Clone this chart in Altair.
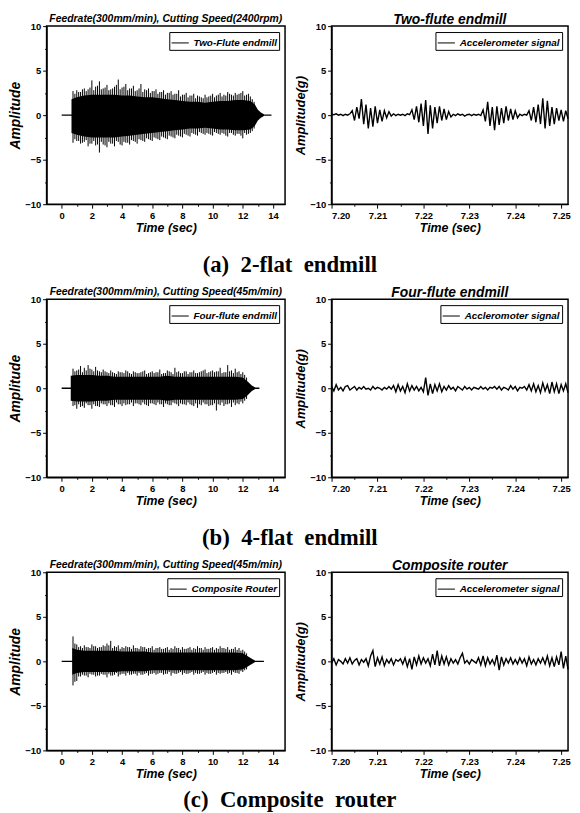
import altair as alt
import pandas as pd

# ---------------- data ----------------
# Left panels: dense cutting signal, drawn as a core envelope + individual peaks
A_CORE_T = [0.65, 1.0, 1.5, 2.0, 2.5, 3.0, 3.5, 4.0, 4.5, 5.0, 5.5, 6.0, 6.5, 7.0, 7.5,
            8.0, 8.5, 9.0, 9.5, 10.0, 10.5, 11.0, 11.5, 12.0, 12.5, 12.8, 13.0, 13.2, 13.4]
A_CORE_UP = [1.8, 2.0, 2.2, 2.3, 2.3, 2.3, 2.3, 2.2, 2.2, 2.1, 2.0, 2.0, 1.9, 1.8, 1.7,
             1.6, 1.5, 1.5, 1.4, 1.5, 1.6, 1.6, 1.7, 1.7, 1.6, 1.2, 0.6, 0.3, 0.1]
A_CORE_LO = [-2.0, -2.2, -2.4, -2.5, -2.5, -2.5, -2.5, -2.4, -2.3, -2.2, -2.1, -2.0, -1.9, -1.8, -1.7,
             -1.6, -1.5, -1.5, -1.4, -1.5, -1.6, -1.6, -1.7, -1.7, -1.6, -1.2, -0.6, -0.3, -0.1]
A_PEAK_UP = [2.7, 2.8, 2.6, 3.0, 2.9, 3.9, 3.2, 3.8, 3.0, 3.4, 2.9, 3.2, 4.0, 3.1, 3.5, 3.0,
             3.3, 2.8, 3.5, 2.9, 3.0, 2.7, 2.9, 2.6, 2.8, 2.5, 2.7, 2.4, 2.8, 2.3, 2.5, 2.2,
             2.4, 2.2, 2.0, 2.3, 2.1, 2.4, 2.2, 2.5, 2.3, 2.6, 2.3, 2.5, 2.4, 2.7, 2.3, 2.1, 1.5]
A_PEAK_LO = [-3.1, -2.9, -3.2, -3.0, -3.5, -3.2, -3.4, -4.2, -3.3, -3.6, -3.2, -3.5, -3.0, -3.4, -3.1, -3.3,
             -2.9, -3.2, -2.8, -3.0, -2.7, -2.9, -2.6, -2.8, -2.5, -2.7, -2.4, -2.6, -2.3, -2.5, -2.2, -2.4,
             -2.1, -2.3, -2.0, -2.2, -2.1, -2.3, -2.0, -2.2, -2.1, -2.4, -2.0, -2.3, -2.1, -2.6, -2.2, -2.0, -1.5]
A_MID_UP = [2.4, 2.6, 2.9, 2.7, 3.1, 2.8, 3.3, 2.9, 3.1, 2.8, 3.0, 3.4, 2.9, 3.2, 2.8, 3.0,
            2.7, 3.0, 2.6, 2.8, 2.5, 2.7, 2.4, 2.6, 2.3, 2.5, 2.3, 2.4, 2.1, 2.3, 2.0, 2.2,
            1.9, 2.1, 1.9, 2.0, 2.2, 2.0, 2.3, 2.1, 2.2, 2.4, 2.2, 2.3, 2.5, 2.2, 2.4, 1.8]
A_MID_LO = [-2.7, -2.9, -3.1, -2.8, -3.2, -2.9, -3.3, -3.0, -3.4, -3.0, -3.2, -2.9, -3.3, -3.0, -3.1, -2.8,
            -3.0, -2.7, -2.9, -2.6, -2.8, -2.5, -2.7, -2.4, -2.6, -2.3, -2.5, -2.2, -2.4, -2.1, -2.3, -2.0,
            -2.2, -1.9, -2.1, -2.0, -2.2, -1.9, -2.1, -2.0, -2.3, -2.0, -2.2, -2.1, -2.3, -2.0, -2.1, -1.8]
A_TRACE_END = 13.9

B_CORE_T = [0.6, 1.0, 1.5, 2.0, 2.5, 3.0, 3.5, 4.0, 4.5, 5.0, 5.5, 6.0, 6.5, 7.0, 7.5,
            8.0, 8.5, 9.0, 9.5, 10.0, 10.5, 11.0, 11.5, 12.0, 12.3, 12.6, 12.8]
B_CORE_UP = [1.4, 1.5, 1.5, 1.5, 1.4, 1.4, 1.3, 1.3, 1.3, 1.3, 1.3, 1.3, 1.3, 1.4, 1.3,
             1.3, 1.3, 1.3, 1.3, 1.3, 1.3, 1.3, 1.3, 1.2, 0.8, 0.3, 0.1]
B_CORE_LO = [-1.4, -1.5, -1.5, -1.5, -1.4, -1.4, -1.3, -1.3, -1.3, -1.3, -1.3, -1.3, -1.3, -1.4, -1.3,
             -1.3, -1.3, -1.3, -1.3, -1.3, -1.3, -1.3, -1.3, -1.2, -0.8, -0.3, -0.1]
B_PEAK_UP = [2.2, 2.0, 2.5, 2.3, 2.6, 2.1, 2.4, 1.9, 2.1, 1.8, 2.0, 1.7, 1.9, 1.8, 2.0, 1.7,
             1.9, 1.7, 1.8, 2.0, 1.7, 1.9, 1.8, 2.1, 1.7, 2.0, 1.8, 2.3, 1.9, 1.7, 1.9, 1.8,
             2.0, 1.7, 1.9, 2.1, 1.8, 2.0, 1.9, 2.3, 1.8, 2.6, 2.0, 2.2, 1.9, 1.8, 1.2]
B_PEAK_LO = [-2.0, -2.3, -2.1, -2.2, -1.9, -2.3, -2.0, -2.1, -1.8, -2.0, -1.9, -2.1, -1.8, -2.0, -1.9, -1.8,
             -2.0, -1.7, -1.9, -1.8, -2.0, -1.7, -1.9, -1.8, -2.1, -1.8, -1.9, -1.7, -2.0, -1.8, -1.9, -1.8,
             -2.0, -2.2, -1.9, -1.8, -2.0, -1.9, -2.5, -1.9, -2.0, -1.8, -2.1, -1.9, -1.8, -1.7, -1.2]
B_MID_UP = [1.9, 2.1, 1.8, 2.0, 2.2, 1.9, 2.0, 1.8, 1.9, 1.7, 1.8, 1.6, 1.8, 1.7, 1.9, 1.6,
            1.8, 1.7, 1.9, 1.6, 1.8, 1.7, 1.8, 1.6, 1.7, 1.9, 1.6, 1.8, 1.7, 1.9, 1.6, 1.8,
            1.7, 1.8, 2.0, 1.7, 1.9, 1.8, 1.9, 1.7, 1.8, 1.9, 1.7, 1.8, 1.6, 1.5]
B_MID_LO = [-1.9, -1.8, -2.0, -1.7, -1.9, -1.8, -2.0, -1.7, -1.8, -1.7, -1.9, -1.6, -1.8, -1.7, -1.8, -1.6,
            -1.7, -1.8, -1.6, -1.9, -1.7, -1.8, -1.6, -1.8, -1.7, -1.9, -1.6, -1.8, -1.7, -1.8, -1.6, -1.9,
            -1.7, -1.8, -1.6, -1.8, -1.9, -1.7, -1.8, -1.6, -1.8, -1.7, -1.6, -1.7, -1.5, -1.4]
B_TRACE_END = 13.1

C_CORE_T = [0.7, 1.0, 1.5, 2.0, 2.5, 3.0, 3.5, 4.0, 4.5, 5.0, 5.5, 6.0, 6.5, 7.0, 7.5,
            8.0, 8.5, 9.0, 9.5, 10.0, 10.5, 11.0, 11.5, 12.0, 12.3, 12.6, 12.8]
C_CORE_UP = [1.5, 1.3, 1.2, 1.2, 1.2, 1.2, 1.2, 1.1, 1.1, 1.1, 1.1, 1.0, 1.0, 1.0, 1.0,
             1.0, 1.0, 1.0, 1.0, 1.0, 1.0, 1.0, 1.0, 0.9, 0.6, 0.3, 0.1]
C_CORE_LO = [-1.5, -1.3, -1.2, -1.2, -1.2, -1.2, -1.2, -1.1, -1.1, -1.1, -1.1, -1.0, -1.0, -1.0, -1.0,
             -1.0, -1.0, -1.0, -1.0, -1.0, -1.0, -1.0, -1.0, -0.9, -0.6, -0.3, -0.1]
C_PEAK_UP = [2.8, 1.9, 1.7, 1.8, 1.6, 1.9, 1.7, 1.6, 1.8, 2.0, 2.3, 1.7, 1.8, 1.6, 1.7, 1.6,
             1.8, 1.5, 1.7, 1.6, 1.5, 1.7, 1.5, 1.6, 1.4, 1.6, 1.5, 1.7, 1.5, 1.6, 1.4, 1.6,
             1.5, 1.7, 1.5, 1.6, 1.4, 1.6, 1.5, 1.7, 1.5, 1.6, 1.4, 1.6, 1.5, 1.3, 0.9]
C_PEAK_LO = [-2.7, -2.2, -1.7, -1.6, -1.8, -1.5, -1.7, -1.6, -1.5, -1.8, -1.6, -1.5, -1.7, -1.4, -1.6, -1.5,
             -1.4, -1.6, -1.5, -1.4, -1.6, -1.4, -1.5, -1.3, -1.5, -1.4, -1.6, -1.4, -1.3, -1.5, -1.4, -1.3,
             -1.5, -1.4, -1.3, -1.5, -1.4, -1.3, -1.5, -1.4, -1.3, -1.4, -1.5, -1.3, -1.4, -1.2, -0.9]
C_MID_UP = [2.0, 1.6, 1.5, 1.6, 1.5, 1.7, 1.5, 1.6, 1.7, 1.8, 1.5, 1.6, 1.4, 1.5, 1.6, 1.4,
            1.5, 1.4, 1.6, 1.4, 1.5, 1.3, 1.5, 1.4, 1.5, 1.3, 1.4, 1.5, 1.3, 1.4, 1.5, 1.3,
            1.4, 1.5, 1.3, 1.4, 1.5, 1.3, 1.4, 1.5, 1.4, 1.3, 1.4, 1.3, 1.2, 1.1]
C_MID_LO = [-2.3, -1.7, -1.5, -1.6, -1.4, -1.5, -1.6, -1.4, -1.5, -1.4, -1.6, -1.3, -1.5, -1.4, -1.3, -1.5,
            -1.4, -1.3, -1.5, -1.3, -1.4, -1.3, -1.4, -1.3, -1.4, -1.2, -1.3, -1.4, -1.2, -1.3, -1.4, -1.2,
            -1.3, -1.4, -1.2, -1.3, -1.4, -1.2, -1.3, -1.3, -1.2, -1.3, -1.2, -1.3, -1.1, -1.0]
C_TRACE_END = 13.4

PEAK_START, MID_START, PEAK_STEP = 0.75, 0.875, 0.25

# Right panels: accelerometer signal, 0.5 ms sampling from 7.200 s
R_START = 7.2
R_STEP = 0.0005
RA_SIG = [0.1, 0.05, 0.15, 0.0, 0.1, -0.05, 0.1, 0.0, 0.15,
          0.5, -0.6, 0.9, -0.4, 1.8, -1.0, 1.2, -1.5, 0.8, -1.3, 1.0, -0.9, 0.6, -0.7, 0.5, -0.3, 0.4,
          -0.1, 0.15, -0.05, 0.1, 0.0, 0.1, -0.05, 0.15, 0.05,
          0.6, -0.5, 1.0, -0.8, 1.3, -1.2, 1.7, -2.1, 1.1, -1.5, 0.9, -0.9, 1.0, -0.6, 0.7, -0.5, 0.4, -0.2,
          0.1, -0.05, 0.15, 0.0, 0.1, -0.1, 0.05, 0.1, -0.05, 0.1, 0.0, 0.1, -0.05,
          0.6, -0.7, 1.5, -1.2, 0.9, -1.7, 1.0, -1.1, 0.8, -0.9, 1.0, -0.6, 0.7, -0.5, 0.5, -0.3,
          0.1, -0.05, 0.1, 0.0,
          0.5, -0.6, 0.9, -0.8, 1.2, -1.0, 1.9, -1.5, 1.6, -1.2, 0.9, -1.0, 0.8, -0.6, 0.6, -0.7, 0.5, -0.4]
RB_SIG = [0.2, -0.3, 0.4, -0.2, 0.1, -0.3, 0.2, 0.3, -0.2, 0.0, 0.2, -0.2, 0.1, -0.1, 0.2, -0.1, 0.0, -0.2, 0.2, -0.1,
          0.1, 0.0, -0.2, 0.1, -0.1, 0.2, -0.1, 0.3, -0.4, 0.4, -0.3, 0.2, -0.5, 0.5, -0.3, 0.3, -0.2, 0.2, -0.3, 0.1,
          -0.4, 1.2, -0.8, 0.5, -0.6, 0.4, -0.3, 0.5, -0.4, 0.2, -0.2, 0.3, -0.1, 0.1, -0.3, 0.2, 0.0, -0.2, 0.2, -0.1,
          0.1, -0.2, 0.1, 0.0, -0.1, 0.2, -0.1, 0.1, -0.2, 0.1, 0.0, 0.2, -0.1, 0.2, -0.2, 0.1, 0.0, -0.2, 0.3, -0.1,
          0.2, -0.3, 0.1, 0.0, 0.2, -0.2, 0.4, -0.3, 0.5, -0.4, 0.3, -0.5, 0.6, -0.3, 0.4, -0.6, 0.7, -0.4, 0.5, -0.6,
          0.4, -0.3, 0.5, -0.5]
RC_SIG = [-0.2, 0.3, -0.4, 0.2, 0.0, -0.3, 0.3, -0.2, 0.4, -0.3, 0.1, 0.3, -0.4, 0.2, -0.1, 0.3, -0.5, 0.6, 1.2, -0.6,
          0.4, -0.3, 0.5, -0.5, 0.2, -0.2, 0.3, -0.4, 0.2, 0.0, 0.3, -0.3, 0.4, -0.6, 0.3, -0.9, 0.5, -0.4, 0.6, -0.3,
          0.4, -0.2, 0.3, -0.5, 0.8, -0.4, 1.2, -0.5, 0.6, -0.3, 0.5, -0.4, 0.3, -0.2, 0.2, -0.3, 0.4, 0.9, -0.2, 0.1,
          -0.3, 0.2, 0.0, -0.2, 0.4, -0.4, 0.6, -0.5, 0.4, -0.3, 0.2, -0.4, 0.7, -1.0, 0.5, -0.4, 0.3, -0.2, 0.4, -0.3,
          0.2, -0.3, 0.4, -0.2, 0.3, -0.5, 0.5, -0.3, 0.2, -0.4, 0.3, -0.2, 0.4, -0.3, 0.6, -0.5, 0.4, -0.6, 0.5, -0.4,
          1.1, -0.8, 0.6, -0.9]

LEFT_TITLES = ["Feedrate(300mm/min), Cutting Speed(2400rpm)",
               "Feedrate(300mm/min), Cutting Speed(45m/min)",
               "Feedrate(300mm/min), Cutting Speed(45m/min)"]
LEFT_LEGENDS = ["Two-Flute endmill", "Four-flute endmill", "Composite Router"]
RIGHT_TITLES = ["Two-flute endmill", "Four-flute endmill", "Composite router"]
RIGHT_LEGENDS = ["Accelerometer signal", "Accleromoter signal", "Accelerometer signal"]
CAPTIONS = ["(a)\u00a0\u00a02-flat\u00a0\u00a0endmill",
            "(b)\u00a0\u00a04-flat\u00a0\u00a0endmill",
            "(c)\u00a0\u00a0Composite\u00a0\u00a0router"]

# tick positions (labelled ones and the minor ones in between)
LEFT_X_TICKS = [0, 1, 2, 3, 4, 5, 6, 7, 8, 9, 10, 11, 12, 13, 14]
RIGHT_X_TICKS = [7.200, 7.205, 7.210, 7.215, 7.220, 7.225, 7.230, 7.235, 7.240, 7.245, 7.250]
Y_TICKS = [-10, -7.5, -5, -2.5, 0, 2.5, 5, 7.5, 10]

# ---------------- layout / style ----------------
LW, RW, H = 241, 239, 180
FONT = "Liberation Sans"
CAPTION_OFFSETS = [20, 20, 8]

Y_MAJOR = "abs(datum.value % 5) < 0.001"
LX_MAJOR = "abs(datum.value % 2) < 0.001"
RX_MAJOR = "abs(round(datum.value * 1000) % 10) == 0"

yscale = alt.Scale(domain=[-10, 10], nice=False, zero=False)


def axis(values, major, title, tsize, fmt=None):
    kw = dict(values=values, title=title, titleFontSize=tsize,
              labelExpr=f"({major}) ? datum.label : ''",
              tickSize={"condition": {"test": major, "value": 4}, "value": 2})
    if fmt:
        kw["format"] = fmt
    return alt.Axis(**kw)


def left_panel(core_t, core_up, core_lo, pk_up, pk_lo, mid_up, mid_lo, trace_end, title, legend):
    xs = alt.Scale(domain=[-1, 14.8], nice=False, zero=False)
    xax = axis(LEFT_X_TICKS, LX_MAJOR, "Time (sec)", 12.5)
    yax = axis(Y_TICKS, Y_MAJOR, "Amplitude", 14)
    core = pd.DataFrame({"t": core_t, "up": core_up, "lo": core_lo})
    peaks = pd.DataFrame({"t": [PEAK_START + PEAK_STEP * i for i in range(len(pk_up))],
                          "up": pk_up, "lo": pk_lo, "s": legend})
    mids = pd.DataFrame({"t": [MID_START + PEAK_STEP * i for i in range(len(mid_up))],
                         "up": mid_up, "lo": mid_lo})
    trace = pd.DataFrame({"t": [0.0, trace_end], "y": [0.0, 0.0]})
    base_line = alt.Chart(trace).mark_line(color="black", strokeWidth=1.3).encode(
        x=alt.X("t:Q", scale=xs, axis=xax), y=alt.Y("y:Q", scale=yscale, axis=yax))
    area = alt.Chart(core).mark_area(color="black", opacity=1).encode(
        x=alt.X("t:Q", scale=xs, axis=xax), y=alt.Y("up:Q", scale=yscale, axis=yax), y2="lo:Q")
    mid_rules = alt.Chart(mids).mark_rule(strokeWidth=1, color="black").encode(
        x=alt.X("t:Q", scale=xs, axis=xax), y=alt.Y("up:Q", scale=yscale, axis=yax), y2="lo:Q")
    rules = alt.Chart(peaks).mark_rule(strokeWidth=1).encode(
        x=alt.X("t:Q", scale=xs, axis=xax), y=alt.Y("up:Q", scale=yscale, axis=yax), y2="lo:Q",
        color=alt.Color("s:N", scale=alt.Scale(range=["black"]),
                        legend=alt.Legend(title=None, orient="top-right")))
    return alt.layer(base_line, area, mid_rules, rules).properties(
        width=LW, height=H,
        title=alt.TitleParams(title, font=FONT, fontSize=10.5, fontStyle="italic",
                              fontWeight="bold", anchor="middle", offset=-3.5, color="black"))


def right_panel(sig, title, legend):
    xs = alt.Scale(domain=[7.2, 7.2515], nice=False, zero=False)
    df = pd.DataFrame({"t": [R_START + R_STEP * i for i in range(len(sig))], "v": sig, "s": legend})
    return alt.Chart(df).mark_line(strokeWidth=1.4).encode(
        x=alt.X("t:Q", scale=xs, axis=axis(RIGHT_X_TICKS, RX_MAJOR, "Time (sec)", 12.5, ".2f")),
        y=alt.Y("v:Q", scale=yscale, axis=axis(Y_TICKS, Y_MAJOR, "Amplitude(g)", 13)),
        color=alt.Color("s:N", scale=alt.Scale(range=["black"]),
                        legend=alt.Legend(title=None, orient="top-right")),
    ).properties(
        width=RW, height=H,
        title=alt.TitleParams(title, font=FONT, fontSize=14, fontStyle="italic",
                              fontWeight="bold", anchor="middle", offset=-6, color="black"))


lefts = [
    left_panel(A_CORE_T, A_CORE_UP, A_CORE_LO, A_PEAK_UP, A_PEAK_LO, A_MID_UP, A_MID_LO,
               A_TRACE_END, LEFT_TITLES[0], LEFT_LEGENDS[0]),
    left_panel(B_CORE_T, B_CORE_UP, B_CORE_LO, B_PEAK_UP, B_PEAK_LO, B_MID_UP, B_MID_LO,
               B_TRACE_END, LEFT_TITLES[1], LEFT_LEGENDS[1]),
    left_panel(C_CORE_T, C_CORE_UP, C_CORE_LO, C_PEAK_UP, C_PEAK_LO, C_MID_UP, C_MID_LO,
               C_TRACE_END, LEFT_TITLES[2], LEFT_LEGENDS[2]),
]
rights = [right_panel(RA_SIG, RIGHT_TITLES[0], RIGHT_LEGENDS[0]),
          right_panel(RB_SIG, RIGHT_TITLES[1], RIGHT_LEGENDS[1]),
          right_panel(RC_SIG, RIGHT_TITLES[2], RIGHT_LEGENDS[2])]

rows = []
for i in range(3):
    row = alt.hconcat(lefts[i], rights[i], spacing=47, bounds="flush").resolve_scale(
        x="independent", y="independent", color="independent").resolve_legend(
        color="independent").properties(
        title=alt.TitleParams(CAPTIONS[i], orient="bottom", font="Liberation Serif", fontSize=23,
                              fontWeight="bold", anchor="middle", offset=CAPTION_OFFSETS[i],
                              color="black"))
    rows.append(row)

chart = alt.vconcat(*rows, spacing=8).resolve_scale(
    x="independent", y="independent", color="independent").resolve_legend(
    color="independent").properties(
    padding={"left": 0, "top": 0, "right": 0, "bottom": 0}, background="white"
).configure_view(stroke="black", strokeWidth=1.5).configure_axis(
    labelFont=FONT, labelFontWeight="bold", labelFontSize=9.5, labelColor="black",
    titleFont=FONT, titleFontWeight="bold", titleFontStyle="italic", titleColor="black",
    domainColor="black", domainWidth=1.3, tickColor="black", tickWidth=1,
    grid=False, labelPadding=2, titlePadding=2
).configure_legend(
    strokeColor="black", fillColor="white", padding=1.5, labelFont=FONT, labelFontWeight="bold",
    labelFontStyle="italic", labelFontSize=10, labelColor="black", symbolType="stroke",
    symbolStrokeWidth=1, symbolSize=300, offset=6, cornerRadius=0, labelOffset=4
)

chart.save("out.html", embed_options={"renderer": "svg", "actions": False})
